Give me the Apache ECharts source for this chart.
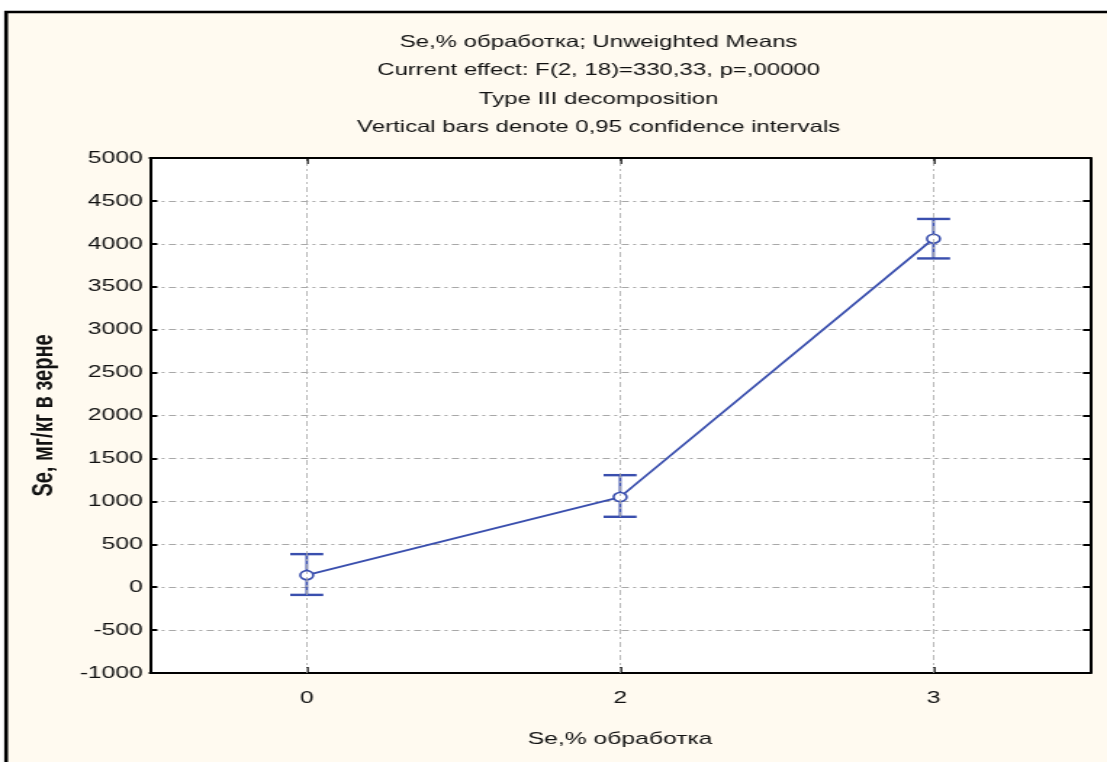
<!DOCTYPE html>
<html><head><meta charset="utf-8">
<script src="https://cdn.jsdelivr.net/npm/echarts@6/dist/echarts.min.js"></script>
<style>
html,body{margin:0;padding:0;background:#fff;overflow:hidden}
#wrap{width:1107px;height:762px;overflow:hidden}
#c{width:763px;height:762px;transform:scaleX(1.4509);transform-origin:0 0}
</style>
</head><body><div id="wrap"><div id="c"></div></div>
<script>
const categories = ['0', '2', '3'];
const means = [140, 1050, 4060];
const ciLow = [-90, 820, 3830];
const ciHigh = [385, 1305, 4290];
const titleLines = [
  'Se,% обработка; Unweighted Means',
  'Current effect: F(2, 18)=330,33, p=,00000',
  'Type III decomposition',
  'Vertical bars denote 0,95 confidence intervals'
];
const yTicks = { min: -1000, max: 5000, interval: 500 };
const xName = 'Se,% обработка';
const yName = 'Se, мг/кг в зерне';

const blue = '#3a4fae';
const font = 'Liberation Sans, Arial, sans-serif';
const gridLine = { show: true, lineStyle: { color: '#a8a8a8', type: [5, 3, 2, 3], width: 1 } };
const chart = echarts.init(document.getElementById('c'));
const titleGraphics = titleLines.map((t, i) => ({
  type: 'text', x: 412.6, y: 42.5 + i * 28.3, z: 10, silent: true,
  style: { text: t, fontFamily: font, fontSize: 16.5, fill: '#111', align: 'center', verticalAlign: 'middle' }
}));
chart.setOption({
  backgroundColor: '#ffffff',
  animation: false,
  graphic: [{
    type: 'rect', z: -10, silent: true,
    shape: { x: 4.2, y: 12, width: 800, height: 800 },
    style: { fill: '#fffaf0', stroke: '#000', lineWidth: 2.6 }
  }].concat(titleGraphics),
  grid: { left: 103.4, right: 11.6, top: 158, bottom: 89, show: true, backgroundColor: '#fff', borderWidth: 0 },
  xAxis: [{
    type: 'category', data: categories, boundaryGap: true,
    name: xName, nameLocation: 'middle', nameGap: 58,
    nameTextStyle: { fontFamily: font, fontSize: 17, color: '#111' },
    axisLine: { onZero: false, lineStyle: { color: '#000', width: 2.2 } },
    axisTick: { show: true, alignWithLabel: true, inside: true, length: 6, lineStyle: { color: '#000', width: 1.5 } },
    axisLabel: { fontFamily: font, fontSize: 17, color: '#111', margin: 17 },
    splitLine: { show: false }
  }, {
    type: 'category', data: categories, position: 'top', boundaryGap: true,
    axisLine: { show: true, onZero: false, lineStyle: { color: '#000', width: 2.2 } },
    axisTick: { show: true, alignWithLabel: true, inside: true, length: 6, lineStyle: { color: '#000', width: 1.5 } },
    axisLabel: { show: false }, splitLine: { show: false }
  }],
  yAxis: [{
    type: 'value', min: yTicks.min, max: yTicks.max, interval: yTicks.interval,
    name: yName, nameLocation: 'middle', nameGap: 63, nameRotate: 90,
    nameTextStyle: { fontFamily: font, fontSize: 20, fontWeight: 'bold', color: '#111' },
    axisLine: { show: true, onZero: false, lineStyle: { color: '#000', width: 2 } },
    axisTick: { show: true, inside: true, length: 5, lineStyle: { color: '#000', width: 2 } },
    axisLabel: { fontFamily: font, fontSize: 17, color: '#111', margin: 5, formatter: v => String(v) },
    splitLine: gridLine
  }, {
    type: 'value', position: 'right', min: yTicks.min, max: yTicks.max, interval: yTicks.interval,
    axisLine: { show: true, onZero: false, lineStyle: { color: '#000', width: 2 } },
    axisTick: { show: true, inside: true, length: 5, lineStyle: { color: '#000', width: 2 } },
    axisLabel: { show: false }, splitLine: { show: false }
  }],
  series: [{
    type: 'line', data: means,
    symbol: 'circle', symbolSize: 9,
    itemStyle: { color: '#fff', borderColor: blue, borderWidth: 1.6 },
    lineStyle: { color: blue, width: 1.8 }, z: 3
  }, {
    type: 'custom', z: 2,
    data: categories.map((c, i) => [i, ciLow[i], ciHigh[i]]),
    renderItem: function (params, api) {
      const lo = api.coord([api.value(0), api.value(1)]);
      const hi = api.coord([api.value(0), api.value(2)]);
      const hw = 11.4;
      const st = { stroke: blue, lineWidth: 2.4, fill: null };
      const sv = { stroke: blue, lineWidth: 1.8, fill: null };
      return { type: 'group', children: [
        { type: 'line', shape: { x1: lo[0], y1: lo[1], x2: hi[0], y2: hi[1] }, style: sv },
        { type: 'line', shape: { x1: lo[0] - hw, y1: lo[1], x2: lo[0] + hw, y2: lo[1] }, style: st },
        { type: 'line', shape: { x1: hi[0] - hw, y1: hi[1], x2: hi[0] + hw, y2: hi[1] }, style: st }
      ]};
    },
    markLine: {
      silent: true, symbol: 'none', label: { show: false },
      lineStyle: { color: '#a8a8a8', type: [5, 3, 2, 3], width: 0.8 },
      data: categories.map(c => ({ xAxis: c }))
    }
  }]
});
</script></body></html>
